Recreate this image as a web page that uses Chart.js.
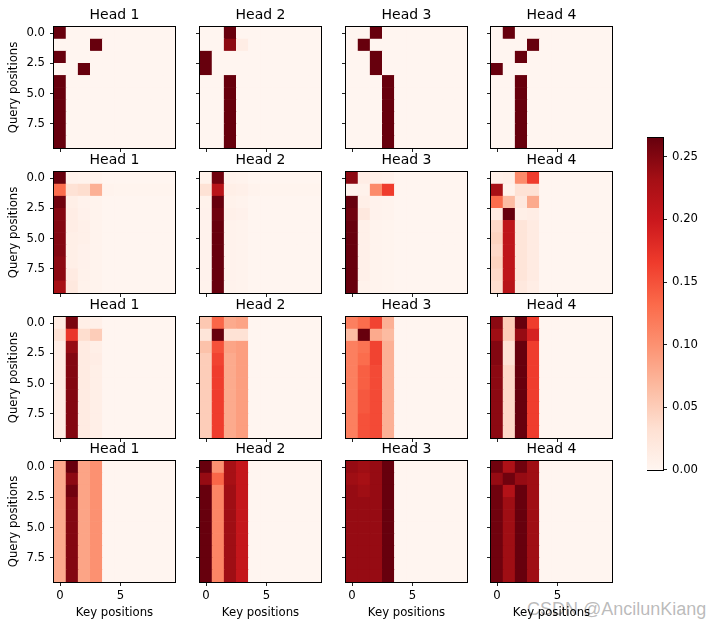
<!DOCTYPE html>
<html>
<head>
<meta charset="utf-8">
<script src="https://cdn.jsdelivr.net/npm/chart.js@4.4.0/dist/chart.umd.min.js"></script>
<style>
  body { margin: 0; background: #fff; }
  #fig { position: relative; width: 709px; height: 629px; overflow: hidden; background: #fff; }
  #fig canvas { position: absolute; }
  .mark { position: absolute; left: 527px; top: 599px; font: 18px "Liberation Sans", Arial, sans-serif; color: rgba(130,130,130,0.55); white-space: nowrap; }
</style>
</head>
<body>
<div id="fig"><div class="mark">CSDN @AncilunKiang</div></div>
<script>
const headTitles = ['Head 1', 'Head 2', 'Head 3', 'Head 4'];
const keyTicks = [0, 5];
const queryTicks = [0, 2.5, 5, 7.5];
const colorTicks = [0, 0.05, 0.1, 0.15, 0.2, 0.25];
const colorMax = 0.265;

// rows = query positions 0..9, columns = key positions 0..9 (colour level)
const l1h1 = [
  [0.265, 0, 0, 0, 0, 0, 0, 0, 0, 0],
  [0, 0, 0, 0.265, 0, 0, 0, 0, 0, 0],
  [0.265, 0, 0, 0, 0, 0, 0, 0, 0, 0],
  [0, 0, 0.265, 0, 0, 0, 0, 0, 0, 0],
  [0.265, 0, 0, 0, 0, 0, 0, 0, 0, 0],
  [0.265, 0, 0, 0, 0, 0, 0, 0, 0, 0],
  [0.265, 0, 0, 0, 0, 0, 0, 0, 0, 0],
  [0.265, 0, 0, 0, 0, 0, 0, 0, 0, 0],
  [0.265, 0, 0, 0, 0, 0, 0, 0, 0, 0],
  [0.265, 0, 0, 0, 0, 0, 0, 0, 0, 0]
];
const l1h2 = [
  [0, 0, 0.265, 0, 0, 0, 0, 0, 0, 0],
  [0, 0, 0.245, 0.012, 0, 0, 0, 0, 0, 0],
  [0.265, 0, 0, 0, 0, 0, 0, 0, 0, 0],
  [0.265, 0, 0, 0, 0, 0, 0, 0, 0, 0],
  [0, 0, 0.265, 0, 0, 0, 0, 0, 0, 0],
  [0, 0, 0.265, 0, 0, 0, 0, 0, 0, 0],
  [0, 0, 0.265, 0, 0, 0, 0, 0, 0, 0],
  [0, 0, 0.265, 0, 0, 0, 0, 0, 0, 0],
  [0, 0, 0.265, 0, 0, 0, 0, 0, 0, 0],
  [0, 0, 0.265, 0, 0, 0, 0, 0, 0, 0]
];
const l1h3 = [
  [0, 0, 0.265, 0, 0, 0, 0, 0, 0, 0],
  [0, 0.265, 0, 0, 0, 0, 0, 0, 0, 0],
  [0, 0, 0.265, 0, 0, 0, 0, 0, 0, 0],
  [0, 0, 0.265, 0, 0, 0, 0, 0, 0, 0],
  [0, 0, 0, 0.265, 0, 0, 0, 0, 0, 0],
  [0, 0, 0, 0.265, 0, 0, 0, 0, 0, 0],
  [0, 0, 0, 0.265, 0, 0, 0, 0, 0, 0],
  [0, 0, 0, 0.265, 0, 0, 0, 0, 0, 0],
  [0, 0, 0, 0.265, 0, 0, 0, 0, 0, 0],
  [0, 0, 0, 0.265, 0, 0, 0, 0, 0, 0]
];
const l1h4 = [
  [0, 0.265, 0, 0, 0, 0, 0, 0, 0, 0],
  [0, 0, 0, 0.265, 0, 0, 0, 0, 0, 0],
  [0, 0, 0.265, 0, 0, 0, 0, 0, 0, 0],
  [0.265, 0, 0, 0, 0, 0, 0, 0, 0, 0],
  [0, 0, 0.265, 0, 0, 0, 0, 0, 0, 0],
  [0, 0, 0.265, 0, 0, 0, 0, 0, 0, 0],
  [0, 0, 0.265, 0, 0, 0, 0, 0, 0, 0],
  [0, 0, 0.265, 0, 0, 0, 0, 0, 0, 0],
  [0, 0, 0.265, 0, 0, 0, 0, 0, 0, 0],
  [0, 0, 0.265, 0, 0, 0, 0, 0, 0, 0]
];

const l2h1 = [
  [0.265, 0.004, 0.003, 0.003, 0, 0, 0, 0, 0, 0],
  [0.13, 0.03, 0.035, 0.075, 0.003, 0.002, 0.002, 0.002, 0.002, 0.002],
  [0.26, 0.01, 0.004, 0.003, 0, 0, 0, 0, 0, 0],
  [0.25, 0.012, 0.006, 0.003, 0, 0, 0, 0, 0, 0],
  [0.25, 0.012, 0.008, 0.003, 0, 0, 0, 0, 0, 0],
  [0.25, 0.01, 0.008, 0.003, 0, 0, 0, 0, 0, 0],
  [0.25, 0.01, 0.006, 0.003, 0, 0, 0, 0, 0, 0],
  [0.245, 0.01, 0.006, 0.003, 0, 0, 0, 0, 0, 0],
  [0.245, 0.015, 0.005, 0.003, 0, 0, 0, 0, 0, 0],
  [0.23, 0.02, 0.005, 0.003, 0, 0, 0, 0, 0, 0]
];
const l2h2 = [
  [0.005, 0.26, 0.004, 0.003, 0, 0, 0, 0, 0, 0],
  [0.03, 0.215, 0.01, 0.008, 0.003, 0.002, 0.002, 0.002, 0.002, 0.002],
  [0.005, 0.265, 0.005, 0.003, 0, 0, 0, 0, 0, 0],
  [0.006, 0.26, 0.008, 0.006, 0, 0, 0, 0, 0, 0],
  [0.004, 0.265, 0.004, 0.003, 0, 0, 0, 0, 0, 0],
  [0.004, 0.265, 0.004, 0.003, 0, 0, 0, 0, 0, 0],
  [0.004, 0.265, 0.004, 0.003, 0, 0, 0, 0, 0, 0],
  [0.004, 0.265, 0.004, 0.003, 0, 0, 0, 0, 0, 0],
  [0.004, 0.265, 0.004, 0.003, 0, 0, 0, 0, 0, 0],
  [0.004, 0.265, 0.004, 0.003, 0, 0, 0, 0, 0, 0]
];
const l2h3 = [
  [0.245, 0.012, 0.008, 0.006, 0, 0, 0, 0, 0, 0],
  [0.003, 0.005, 0.105, 0.165, 0, 0, 0, 0, 0, 0],
  [0.265, 0.01, 0.004, 0.003, 0, 0, 0, 0, 0, 0],
  [0.26, 0.02, 0.004, 0.003, 0, 0, 0, 0, 0, 0],
  [0.265, 0.008, 0.003, 0.002, 0, 0, 0, 0, 0, 0],
  [0.265, 0.008, 0.003, 0.002, 0, 0, 0, 0, 0, 0],
  [0.265, 0.008, 0.003, 0.002, 0, 0, 0, 0, 0, 0],
  [0.265, 0.008, 0.003, 0.002, 0, 0, 0, 0, 0, 0],
  [0.265, 0.008, 0.003, 0.002, 0, 0, 0, 0, 0, 0],
  [0.265, 0.005, 0.003, 0.002, 0, 0, 0, 0, 0, 0]
];
const l2h4 = [
  [0.008, 0.01, 0.105, 0.165, 0, 0, 0, 0, 0, 0],
  [0.23, 0.005, 0.03, 0.03, 0, 0, 0, 0, 0, 0],
  [0.13, 0.065, 0.02, 0.08, 0, 0, 0, 0, 0, 0],
  [0.015, 0.265, 0.01, 0.012, 0, 0, 0, 0, 0, 0],
  [0.04, 0.21, 0.025, 0.015, 0, 0, 0, 0, 0, 0],
  [0.045, 0.21, 0.025, 0.015, 0, 0, 0, 0, 0, 0],
  [0.04, 0.21, 0.025, 0.015, 0, 0, 0, 0, 0, 0],
  [0.045, 0.21, 0.025, 0.015, 0, 0, 0, 0, 0, 0],
  [0.04, 0.21, 0.025, 0.015, 0, 0, 0, 0, 0, 0],
  [0.035, 0.215, 0.02, 0.012, 0, 0, 0, 0, 0, 0]
];

const l3h1 = [
  [0.015, 0.255, 0.01, 0.008, 0, 0, 0, 0, 0, 0],
  [0.03, 0.17, 0.035, 0.05, 0, 0, 0, 0, 0, 0],
  [0.012, 0.24, 0.015, 0.01, 0, 0, 0, 0, 0, 0],
  [0.012, 0.25, 0.015, 0.012, 0, 0, 0, 0, 0, 0],
  [0.012, 0.25, 0.015, 0.01, 0, 0, 0, 0, 0, 0],
  [0.012, 0.25, 0.015, 0.01, 0, 0, 0, 0, 0, 0],
  [0.012, 0.25, 0.015, 0.01, 0, 0, 0, 0, 0, 0],
  [0.012, 0.25, 0.015, 0.01, 0, 0, 0, 0, 0, 0],
  [0.012, 0.25, 0.015, 0.01, 0, 0, 0, 0, 0, 0],
  [0.012, 0.25, 0.015, 0.01, 0, 0, 0, 0, 0, 0]
];
const l3h2 = [
  [0.055, 0.135, 0.08, 0.085, 0, 0, 0, 0, 0, 0],
  [0.025, 0.265, 0.03, 0.03, 0, 0, 0, 0, 0, 0],
  [0.06, 0.15, 0.085, 0.09, 0, 0, 0, 0, 0, 0],
  [0.05, 0.16, 0.08, 0.09, 0, 0, 0, 0, 0, 0],
  [0.05, 0.165, 0.08, 0.09, 0, 0, 0, 0, 0, 0],
  [0.05, 0.165, 0.08, 0.09, 0, 0, 0, 0, 0, 0],
  [0.05, 0.165, 0.08, 0.09, 0, 0, 0, 0, 0, 0],
  [0.05, 0.165, 0.08, 0.09, 0, 0, 0, 0, 0, 0],
  [0.05, 0.165, 0.08, 0.09, 0, 0, 0, 0, 0, 0],
  [0.05, 0.165, 0.08, 0.09, 0, 0, 0, 0, 0, 0]
];
const l3h3 = [
  [0.115, 0.13, 0.16, 0.075, 0, 0, 0, 0, 0, 0],
  [0.065, 0.265, 0.08, 0.066, 0, 0, 0, 0, 0, 0],
  [0.115, 0.125, 0.16, 0.075, 0, 0, 0, 0, 0, 0],
  [0.115, 0.13, 0.16, 0.075, 0, 0, 0, 0, 0, 0],
  [0.115, 0.14, 0.155, 0.075, 0, 0, 0, 0, 0, 0],
  [0.115, 0.14, 0.155, 0.075, 0, 0, 0, 0, 0, 0],
  [0.115, 0.145, 0.155, 0.075, 0, 0, 0, 0, 0, 0],
  [0.115, 0.145, 0.155, 0.075, 0, 0, 0, 0, 0, 0],
  [0.115, 0.15, 0.155, 0.075, 0, 0, 0, 0, 0, 0],
  [0.115, 0.15, 0.155, 0.075, 0, 0, 0, 0, 0, 0]
];
const l3h4 = [
  [0.245, 0.05, 0.265, 0.165, 0, 0, 0, 0, 0, 0],
  [0.235, 0.05, 0.24, 0.19, 0, 0, 0, 0, 0, 0],
  [0.25, 0.03, 0.265, 0.165, 0, 0, 0, 0, 0, 0],
  [0.25, 0.03, 0.265, 0.165, 0, 0, 0, 0, 0, 0],
  [0.245, 0.04, 0.265, 0.165, 0, 0, 0, 0, 0, 0],
  [0.245, 0.04, 0.265, 0.165, 0, 0, 0, 0, 0, 0],
  [0.245, 0.04, 0.265, 0.165, 0, 0, 0, 0, 0, 0],
  [0.245, 0.04, 0.265, 0.165, 0, 0, 0, 0, 0, 0],
  [0.245, 0.04, 0.265, 0.165, 0, 0, 0, 0, 0, 0],
  [0.245, 0.04, 0.265, 0.165, 0, 0, 0, 0, 0, 0]
];

const l4h1 = [
  [0.08, 0.265, 0.085, 0.1, 0, 0, 0, 0, 0, 0],
  [0.08, 0.245, 0.085, 0.1, 0, 0, 0, 0, 0, 0],
  [0.08, 0.26, 0.085, 0.1, 0, 0, 0, 0, 0, 0],
  [0.08, 0.25, 0.085, 0.1, 0, 0, 0, 0, 0, 0],
  [0.08, 0.25, 0.085, 0.1, 0, 0, 0, 0, 0, 0],
  [0.08, 0.25, 0.085, 0.1, 0, 0, 0, 0, 0, 0],
  [0.08, 0.25, 0.085, 0.1, 0, 0, 0, 0, 0, 0],
  [0.08, 0.25, 0.085, 0.1, 0, 0, 0, 0, 0, 0],
  [0.08, 0.25, 0.085, 0.1, 0, 0, 0, 0, 0, 0],
  [0.08, 0.25, 0.085, 0.1, 0, 0, 0, 0, 0, 0]
];
const l4h2 = [
  [0.265, 0.1, 0.23, 0.205, 0, 0, 0, 0, 0, 0],
  [0.24, 0.135, 0.23, 0.205, 0, 0, 0, 0, 0, 0],
  [0.265, 0.11, 0.235, 0.205, 0, 0, 0, 0, 0, 0],
  [0.265, 0.11, 0.235, 0.205, 0, 0, 0, 0, 0, 0],
  [0.265, 0.11, 0.235, 0.205, 0, 0, 0, 0, 0, 0],
  [0.265, 0.11, 0.235, 0.205, 0, 0, 0, 0, 0, 0],
  [0.265, 0.11, 0.235, 0.205, 0, 0, 0, 0, 0, 0],
  [0.265, 0.11, 0.235, 0.205, 0, 0, 0, 0, 0, 0],
  [0.265, 0.11, 0.235, 0.205, 0, 0, 0, 0, 0, 0],
  [0.265, 0.11, 0.235, 0.205, 0, 0, 0, 0, 0, 0]
];
const l4h3 = [
  [0.24, 0.235, 0.24, 0.265, 0, 0, 0, 0, 0, 0],
  [0.235, 0.23, 0.24, 0.265, 0, 0, 0, 0, 0, 0],
  [0.24, 0.235, 0.24, 0.265, 0, 0, 0, 0, 0, 0],
  [0.24, 0.24, 0.24, 0.265, 0, 0, 0, 0, 0, 0],
  [0.24, 0.24, 0.24, 0.265, 0, 0, 0, 0, 0, 0],
  [0.24, 0.24, 0.24, 0.265, 0, 0, 0, 0, 0, 0],
  [0.24, 0.24, 0.24, 0.265, 0, 0, 0, 0, 0, 0],
  [0.24, 0.24, 0.24, 0.265, 0, 0, 0, 0, 0, 0],
  [0.24, 0.24, 0.24, 0.265, 0, 0, 0, 0, 0, 0],
  [0.24, 0.24, 0.24, 0.265, 0, 0, 0, 0, 0, 0]
];
const l4h4 = [
  [0.26, 0.225, 0.26, 0.235, 0, 0, 0, 0, 0, 0],
  [0.24, 0.26, 0.24, 0.235, 0, 0, 0, 0, 0, 0],
  [0.26, 0.22, 0.265, 0.235, 0, 0, 0, 0, 0, 0],
  [0.26, 0.235, 0.265, 0.235, 0, 0, 0, 0, 0, 0],
  [0.26, 0.235, 0.265, 0.235, 0, 0, 0, 0, 0, 0],
  [0.26, 0.235, 0.265, 0.235, 0, 0, 0, 0, 0, 0],
  [0.26, 0.235, 0.265, 0.235, 0, 0, 0, 0, 0, 0],
  [0.26, 0.235, 0.265, 0.235, 0, 0, 0, 0, 0, 0],
  [0.26, 0.235, 0.265, 0.235, 0, 0, 0, 0, 0, 0],
  [0.26, 0.235, 0.265, 0.235, 0, 0, 0, 0, 0, 0]
];

const layers = [
  [l1h1, l1h2, l1h3, l1h4],
  [l2h1, l2h2, l2h3, l2h4],
  [l3h1, l3h2, l3h3, l3h4],
  [l4h1, l4h2, l4h3, l4h4]
];

// matplotlib "Reds"
const reds = ['#fff5f0', '#fee0d2', '#fcbba1', '#fc9272', '#fb6a4a', '#ef3b2c', '#cb181d', '#a50f15', '#67000d'];
const redsRgb = reds.map(h => [1, 3, 5].map(k => parseInt(h.substr(k, 2), 16)));

function redColor(v) {
  let t = Math.max(0, Math.min(1, v / colorMax)) * (reds.length - 1);
  const k = Math.min(Math.floor(t), reds.length - 2);
  const f = t - k;
  const a = redsRgb[k], b = redsRgb[k + 1];
  const c = a.map((x, n) => Math.round(x + (b[n] - x) * f));
  return `rgb(${c[0]},${c[1]},${c[2]})`;
}

Chart.defaults.font.family = '"DejaVu Sans", sans-serif';
Chart.defaults.font.size = 11.7;
Chart.defaults.color = '#000';

const fig = document.getElementById('fig');
const panelLeft = [54, 200, 346, 491];
const panelTop = [27, 172, 317, 461];
const panelSize = 121;
const padL = 54, padR = 4, padT = 24, padB = 42;

// black box round the plot area, like matplotlib spines
const frame = {
  id: 'frame',
  afterDraw(chart) {
    const { ctx, chartArea: a } = chart;
    ctx.save();
    ctx.strokeStyle = '#000';
    ctx.lineWidth = 1;
    ctx.strokeRect(Math.round(a.left) - 0.5, Math.round(a.top) - 0.5, Math.round(a.width) + 1, Math.round(a.height) + 1);
    ctx.restore();
  }
};

function addCanvas(left, top, w, h) {
  const cv = document.createElement('canvas');
  cv.width = w;
  cv.height = h;
  cv.style.left = left + 'px';
  cv.style.top = top + 'px';
  cv.style.width = w + 'px';
  cv.style.height = h + 'px';
  fig.appendChild(cv);
  return cv;
}

const tickGrid = { offset: false, drawOnChartArea: false, drawTicks: true, tickLength: 4, tickColor: '#222', lineWidth: 1 };

function makePanel(r, c) {
  const m = layers[r][c];
  const cells = [];
  m.forEach((row, i) => row.forEach((v, j) => cells.push({ x: [j - 0.5, j + 0.5], y: i, v: v })));

  const cv = addCanvas(panelLeft[c] - padL, panelTop[r] - padT, padL + panelSize + padR, padT + panelSize + padB);
  new Chart(cv, {
    type: 'bar',
    data: {
      datasets: [{
        data: cells,
        backgroundColor: ctx => ctx.raw ? redColor(ctx.raw.v) : reds[0],
        borderWidth: 0,
        barPercentage: 1,
        categoryPercentage: 1
      }]
    },
    options: {
      indexAxis: 'y',
      responsive: false,
      animation: false,
      events: [],
      layout: { padding: { right: padR } },
      plugins: {
        legend: { display: false },
        tooltip: { enabled: false },
        title: {
          display: true,
          fullSize: false,
          text: headTitles[c],
          color: '#000',
          font: { size: 14, weight: 'normal', lineHeight: '17px' },
          padding: { top: 4, bottom: 3 }
        }
      },
      scales: {
        x: {
          type: 'linear',
          offset: false,
          min: -0.5,
          max: 9.5,
          afterBuildTicks: s => { s.ticks = keyTicks.map(v => ({ value: v })); },
          afterFit: s => { s.height = padB; },
          grid: tickGrid,
          border: { display: false },
          ticks: { display: r === 3, padding: 3, maxRotation: 0, callback: v => String(v) },
          title: { display: r === 3, text: 'Key positions', padding: { top: 0, bottom: 4 } }
        },
        y: {
          type: 'linear',
          offset: false,
          reverse: true,
          min: -0.5,
          max: 9.5,
          afterBuildTicks: s => { s.ticks = queryTicks.map(v => ({ value: v })); },
          afterFit: s => { s.width = padL; },
          grid: tickGrid,
          border: { display: false },
          ticks: { display: c === 0, padding: 5, callback: v => v.toFixed(1) },
          title: { display: c === 0, text: 'Query positions', padding: { top: 7, bottom: 0 } }
        }
      }
    },
    plugins: [frame]
  });
}

for (let r = 0; r < 4; r++) {
  for (let c = 0; c < 4; c++) makePanel(r, c);
}

// colorbar
const cbLeft = 647, cbTop = 138, cbW = 16, cbH = 332, cbAxis = 46, cbPad = 12;
const cbCanvas = addCanvas(cbLeft, cbTop - cbPad, cbW + cbAxis, cbH + 2 * cbPad);
new Chart(cbCanvas, {
  type: 'bar',
  data: {
    labels: [''],
    datasets: [{
      data: [[0, colorMax]],
      backgroundColor: ctx => {
        const ch = ctx.chart;
        const ys = ch.scales.y;
        if (!ys || !ch.chartArea) return reds[4];
        const g = ch.ctx.createLinearGradient(0, ys.getPixelForValue(0), 0, ys.getPixelForValue(colorMax));
        reds.forEach((col, k) => g.addColorStop(k / (reds.length - 1), col));
        return g;
      },
      borderWidth: 0,
      barPercentage: 1,
      categoryPercentage: 1
    }]
  },
  options: {
    responsive: false,
    animation: false,
    events: [],
    layout: { padding: { top: cbPad, bottom: cbPad, left: 0, right: 0 } },
    plugins: { legend: { display: false }, tooltip: { enabled: false } },
    scales: {
      x: { display: false },
      y: {
        position: 'right',
        min: 0,
        max: colorMax,
        afterBuildTicks: s => { s.ticks = colorTicks.map(v => ({ value: v })); },
        afterFit: s => { s.width = cbAxis; },
        grid: tickGrid,
        border: { display: false },
        ticks: { padding: 5, callback: v => v.toFixed(2) }
      }
    }
  },
  plugins: [frame]
});
</script>
</body>
</html>
